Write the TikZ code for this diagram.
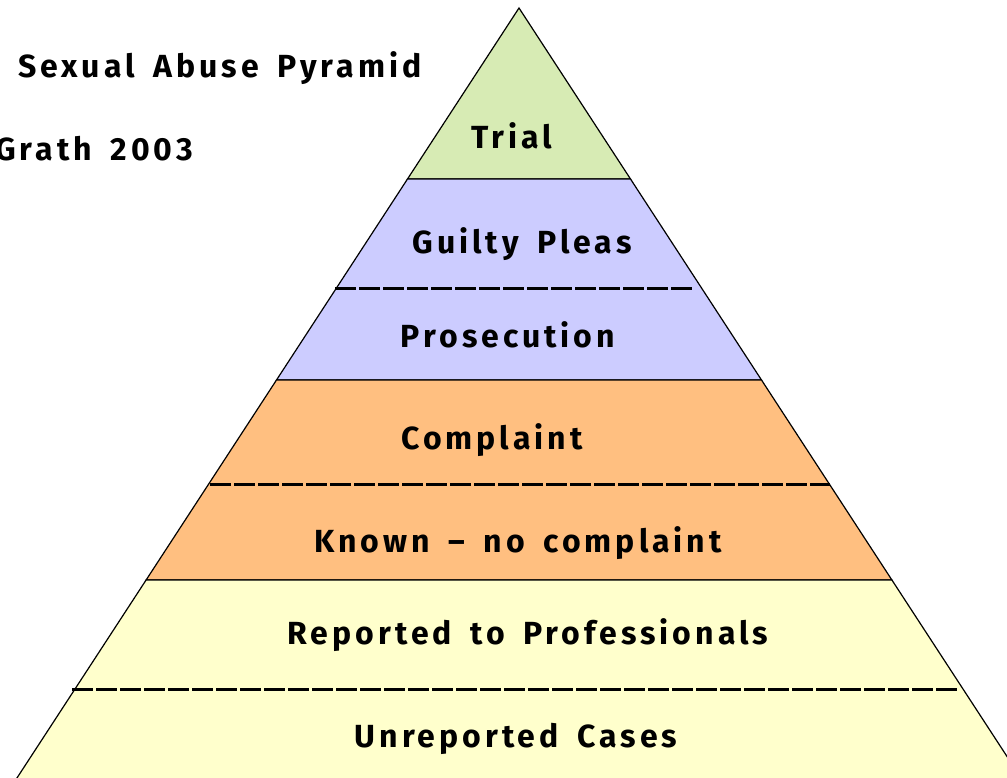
\documentclass[tikz,border=0pt]{standalone}
\usepackage{fontspec}
\setmainfont{Fira Sans}[LetterSpace=12.5,WordSpace=1.6]
\definecolor{bgreen}{HTML}{D7EBB4}
\definecolor{bblue}{HTML}{CCCCFF}
\definecolor{borange}{HTML}{FFBF80}
\definecolor{byellow}{HTML}{FFFFCC}
\begin{document}
\begin{tikzpicture}[x=1pt,y=-1pt,
  lbl/.style={font=\bfseries\fontsize{32}{38}\selectfont, inner sep=0pt, anchor=base},
  band/.style={draw=black, line width=1.2pt},
  divider/.style={line width=3pt, dash pattern=on 21pt off 3pt}]
\useasboundingbox (0,0) rectangle (1007,777);
% band corners
\coordinate (apex) at (519,8);
\coordinate (l1) at (407.5,179); \coordinate (r1) at (630.5,179);
\coordinate (l2) at (276.5,380); \coordinate (r2) at (761.5,380);
\coordinate (l3) at (146.1,580); \coordinate (r3) at (891.9,580);
\coordinate (l4) at (2.6,800);   \coordinate (r4) at (1035.4,800);
\filldraw[band, fill=bgreen] (apex) -- (r1) -- (l1) -- cycle;
\filldraw[band, fill=bblue] (l1) -- (r1) -- (r2) -- (l2) -- cycle;
\filldraw[band, fill=borange] (l2) -- (r2) -- (r3) -- (l3) -- cycle;
\filldraw[band, fill=byellow] (l3) -- (r3) -- (r4) -- (l4) -- cycle;
% dividers
\coordinate (d1a) at (335,288); \coordinate (d1b) at (694,288);
\coordinate (d2a) at (210,484); \coordinate (d2b) at (830,484);
\coordinate (d3a) at (72,689);  \coordinate (d3b) at (957,689);
\draw[divider] (d1a) -- (d1b);
\draw[divider] (d2a) -- (d2b);
\draw[divider] (d3a) -- (d3b);
% labels
\node[lbl, anchor=base west] (title) at (18,77) {Sexual Abuse Pyramid};
\node[lbl, anchor=base east] (author) at (193,160) {McGrath 2003};
\node[lbl] (trial) at (512,148) {Trial};
\node[lbl] (guilty) at (522,253) {Guilty Pleas};
\node[lbl] (pros) at (508,347) {Prosecution};
\node[lbl] (compl) at (492,449) {Complaint};
\node[lbl] (known) at (518,552) {Known – no complaint};
\node[lbl] (reported) at (528,644) {Reported to Professionals};
\node[lbl] (unrep) at (516,747) {Unreported Cases};
\end{tikzpicture}
\end{document}
